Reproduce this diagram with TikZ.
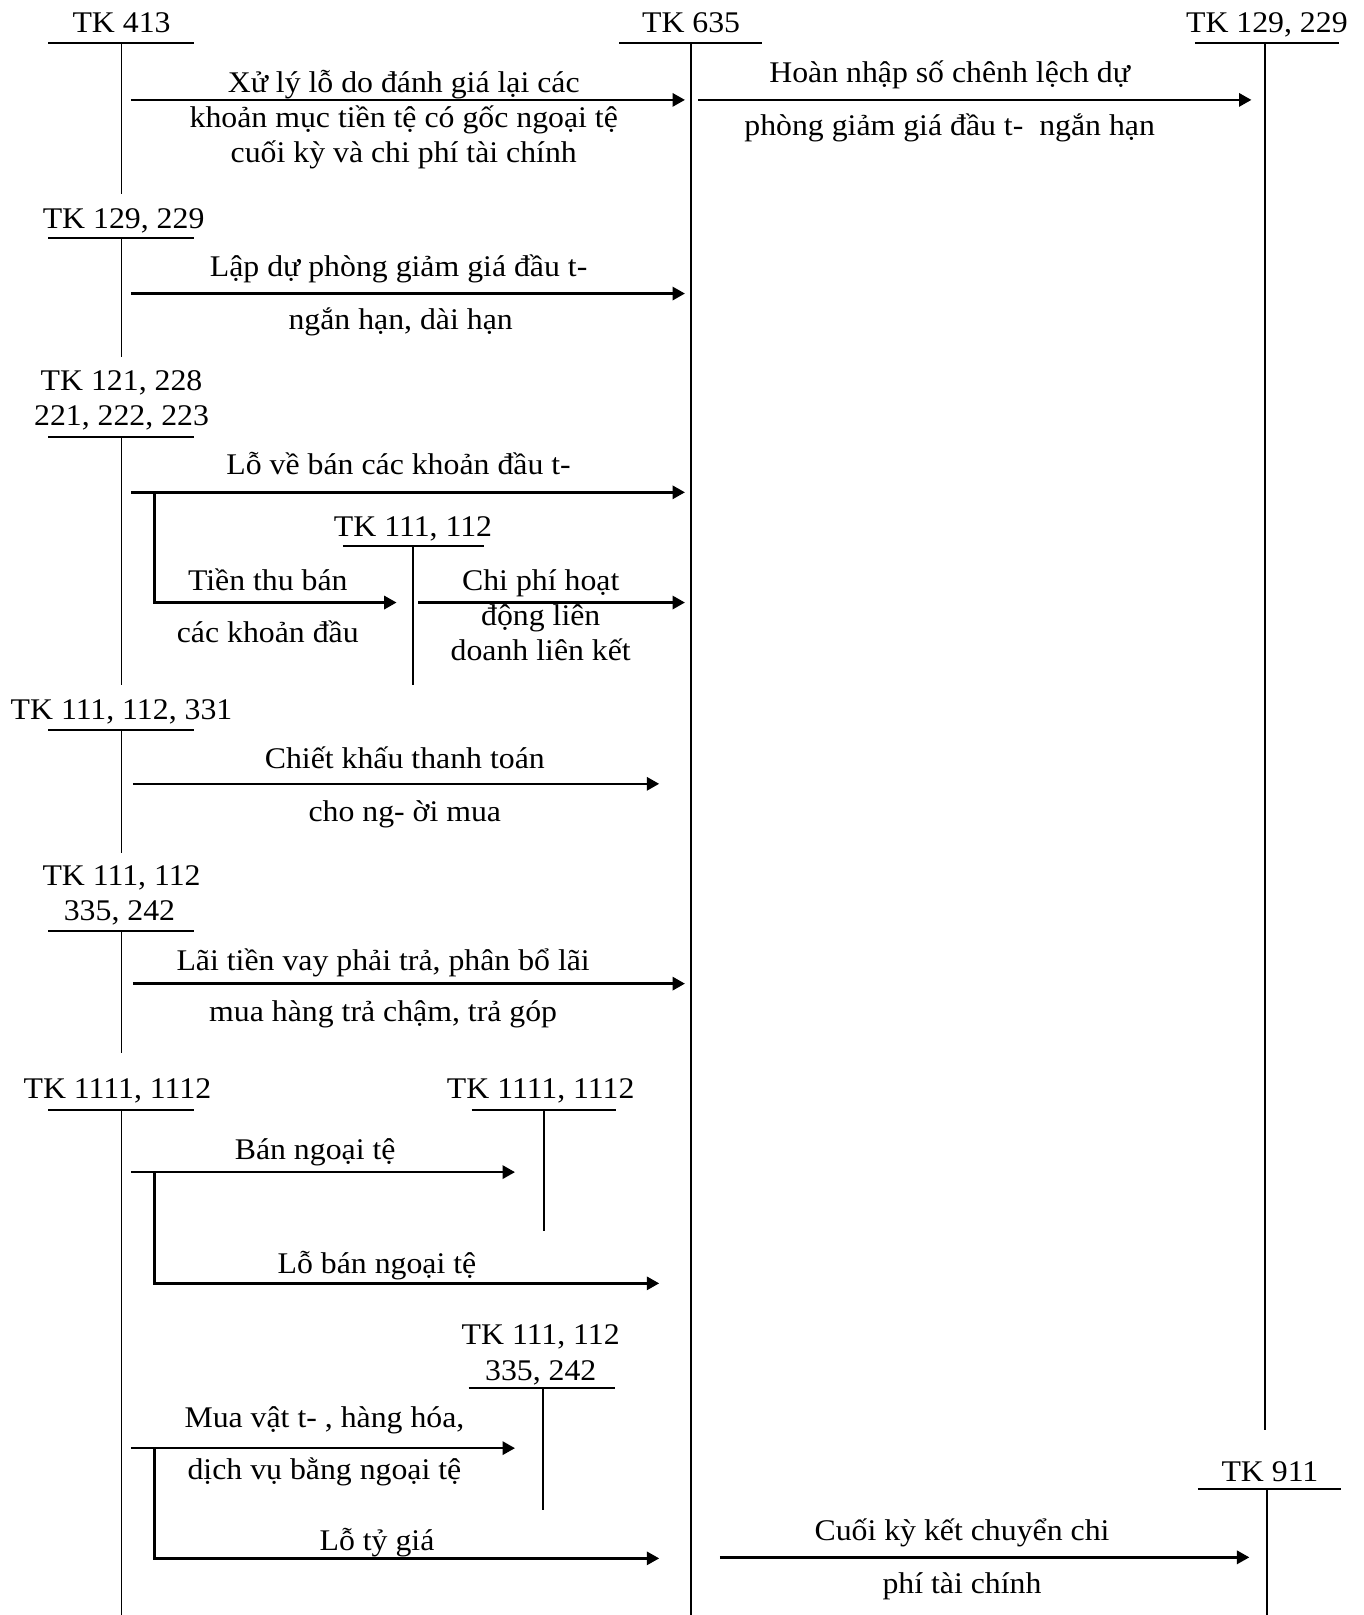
\documentclass[tikz,border=0pt]{standalone}
\usepackage{fontspec}
\setmainfont{Liberation Serif}[FakeStretch=1.06]
\usetikzlibrary{arrows.meta}
\tikzset{
  txt/.style={anchor=base,inner sep=0pt,font=\fontsize{15}{17}\selectfont},
  bar/.style={line width=1pt},
  leg/.style={line width=0.8pt},
  flow/.style={line width=1.3pt,-{Triangle[length=6.2pt,width=6.6pt]}},
}
\begin{document}
\begin{tikzpicture}[x=0.5151pt,y=-0.5151pt]
  \useasboundingbox (0,0) rectangle (1324,1568);
  % TK 635 va TK 129, 229 ben phai
  \node[txt] (tk635) at (671,32) {TK 635};
  \draw[bar] (601,42) -- (740,42);
  \draw[leg] (671,42) -- (671,1568);
  \node[txt] (tkdp) at (1230,32) {TK 129, 229};
  \draw[bar] (1160,42) -- (1300,42);
  \draw[leg] (1228,42) -- (1228,1388);
  % TK 911
  \node[txt] (tk911) at (1233,1438) {TK 911};
  \draw[bar] (1163,1446) -- (1302,1446);
  \draw[leg] (1230,1446) -- (1230,1568);

  % TK 413
  \node[txt] (tk413) at (118,32) {TK 413};
  \draw[bar] (47,42) -- (188,42);
  \draw[leg] (118,42) -- (118,188);
  \draw[flow] (127,97) -- (665,97);
  \node[txt] (xl1) at (392,90) {Xử lý lỗ do đánh giá lại các};
  \node[txt] (xl2) at (392,124) {khoản mục tiền tệ có gốc ngoại tệ};
  \node[txt] (xl3) at (392,158) {cuối kỳ và chi phí tài chính};
  % hoan nhap du phong
  \draw[flow] (678,97) -- (1215,97);
  \node[txt] (hn1) at (922,80) {Hoàn nhập số chênh lệch dự};
  \node[txt] (hn2) at (922,132) {phòng giảm giá đầu t-~ ngắn hạn};

  % TK 129, 229
  \node[txt] (tkdp2) at (120,222) {TK 129, 229};
  \draw[bar] (47,231) -- (188,231);
  \draw[leg] (118,231) -- (118,347);
  \draw[flow] (127,285) -- (665,285);
  \node[txt] (ld1) at (387,268) {Lập dự phòng giảm giá đầu t-};
  \node[txt] (ld2) at (389,320) {ngắn hạn, dài hạn};

  % TK 121, 228, 221, 222, 223
  \node[txt] (tkdt1) at (118,379) {TK 121, 228};
  \node[txt] (tkdt2) at (118,413) {221, 222, 223};
  \draw[bar] (47,424) -- (188,424);
  \draw[leg] (118,424) -- (118,665);
  \draw[flow] (127,478) -- (665,478);
  \node[txt] (lv) at (387,461) {Lỗ về bán các khoản đầu t-};
  \draw[flow] (150,478) -- (150,585) -- (385,585);
  \node[txt] (tt1) at (260,573) {Tiền thu bán};
  \node[txt] (tt2) at (260,624) {các khoản đầu};
  % TK 111, 112
  \node[txt] (tktm) at (401,521) {TK 111, 112};
  \draw[bar] (333,530) -- (470,530);
  \draw[leg] (401,530) -- (401,665);
  \draw[flow] (406,585) -- (665,585);
  \node[txt] (cp1) at (525,573) {Chi phí hoạt};
  \node[txt] (cp2) at (525,607) {động liên};
  \node[txt] (cp3) at (525,641) {doanh liên kết};

  % TK 111, 112, 331
  \node[txt] (tkck) at (118,699) {TK 111, 112, 331};
  \draw[bar] (47,709) -- (188,709);
  \draw[leg] (118,709) -- (118,828);
  \draw[flow] (129,761) -- (640,761);
  \node[txt] (ck1) at (393,746) {Chiết khấu thanh toán};
  \node[txt] (ck2) at (393,798) {cho ng- ời mua};

  % TK 111, 112, 335, 242
  \node[txt] (tklv1) at (118,860) {TK 111, 112};
  \node[txt] (tklv2) at (116,894) {335, 242};
  \draw[bar] (47,904) -- (188,904);
  \draw[leg] (118,904) -- (118,1022);
  \draw[flow] (129,955) -- (665,955);
  \node[txt] (lt1) at (372,942) {Lãi tiền vay phải trả, phân bổ lãi};
  \node[txt] (lt2) at (372,992) {mua hàng trả chậm, trả góp};

  % TK 1111, 1112
  \node[txt] (tkng) at (114,1067) {TK 1111, 1112};
  \draw[bar] (47,1078) -- (188,1078);
  \draw[leg] (118,1078) -- (118,1568);
  \node[txt] (tkng2) at (525,1067) {TK 1111, 1112};
  \draw[bar] (458,1078) -- (598,1078);
  \draw[leg] (528,1078) -- (528,1195);
  \draw[flow] (127,1138) -- (500,1138);
  \node[txt] (bn) at (306,1126) {Bán ngoại tệ};
  \draw[flow] (150,1138) -- (150,1246) -- (640,1246);
  \node[txt] (lb) at (366,1236) {Lỗ bán ngoại tệ};

  % TK 111, 112, 335, 242 (mua hang)
  \node[txt] (tkmh1) at (525,1305) {TK 111, 112};
  \node[txt] (tkmh2) at (525,1340) {335, 242};
  \draw[bar] (455,1348) -- (597,1348);
  \draw[leg] (527,1348) -- (527,1466);
  \draw[flow] (127,1406) -- (500,1406);
  \node[txt] (mv1) at (315,1386) {Mua vật t- , hàng hóa,};
  \node[txt] (mv2) at (315,1436) {dịch vụ bằng ngoại tệ};
  \draw[flow] (150,1406) -- (150,1513) -- (640,1513);
  \node[txt] (ltg) at (366,1505) {Lỗ tỷ giá};

  % ket chuyen
  \draw[flow] (699,1512) -- (1213,1512);
  \node[txt] (kc1) at (934,1496) {Cuối kỳ kết chuyển chi};
  \node[txt] (kc2) at (934,1547) {phí tài chính};
\end{tikzpicture}
\end{document}
